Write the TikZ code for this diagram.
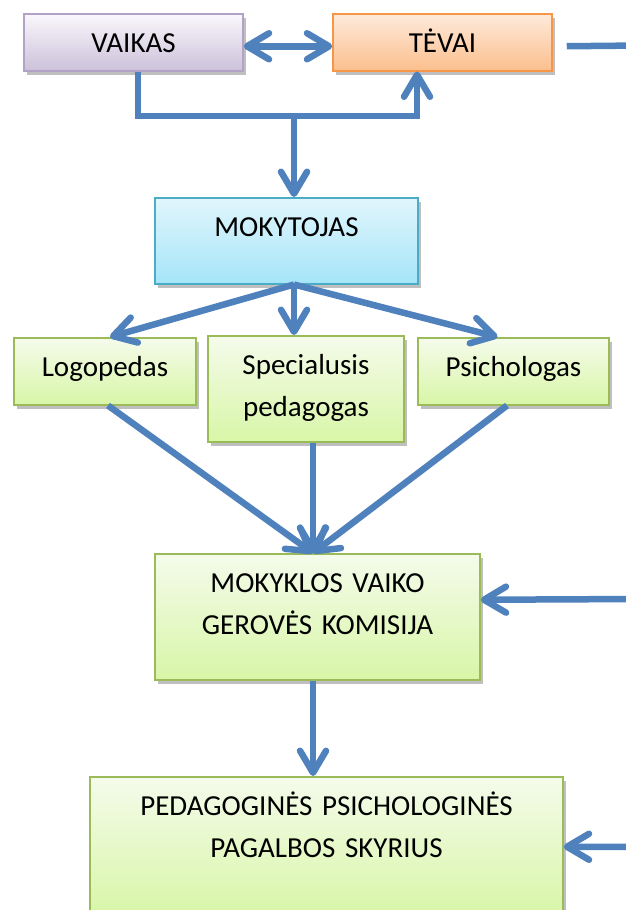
\documentclass[tikz,border=0pt]{standalone}
\usepackage{fontspec}
\setmainfont{Carlito}
\usepackage{xcolor}
\usetikzlibrary{calc, arrows.meta, shadows}

\definecolor{arrowblue}{HTML}{4F81BD}
\definecolor{violetline}{HTML}{B3A2C7}
\definecolor{violettop}{HTML}{FAF8FC}
\definecolor{violetbot}{HTML}{CCC1DA}
\definecolor{orangeline}{HTML}{F79646}
\definecolor{orangetop}{HTML}{FEEADB}
\definecolor{orangebot}{HTML}{FBBF8D}
\definecolor{cyanline}{HTML}{4BACC6}
\definecolor{cyantop}{HTML}{E1F6FC}
\definecolor{cyanbot}{HTML}{A5E5F9}
\definecolor{greenline}{HTML}{9BBB59}
\definecolor{greentop}{HTML}{F5FBEB}
\definecolor{greenbot}{HTML}{D8F6A7}

\tikzset{
	chev/.tip={Straight Barb[length=22pt, width=26pt, round]},
	box/.style={draw, line width=1.5pt, anchor=north, inner sep=0pt,
		execute at begin node=\centering,
		text height=39pt, font=\fontsize{29}{42}\selectfont,
		drop shadow={shadow xshift=3pt, shadow yshift=-4pt, opacity=0.25, fill=black}},
	violetbox/.style={box, draw=violetline, top color=violettop, bottom color=violetbot},
	orangebox/.style={box, draw=orangeline, top color=orangetop, bottom color=orangebot},
	cyanbox/.style={box, draw=cyanline, top color=cyantop, bottom color=cyanbot},
	greenbox/.style={box, draw=greenline, top color=greentop, bottom color=greenbot},
	line/.style={draw=arrowblue, line width=6.5pt,
		preaction={draw=black, opacity=0.12, transform canvas={shift={(2pt,-2.5pt)}}}},
	arr/.style={line, -chev}
}

\begin{document}
\begin{tikzpicture}[x=1pt, y=-1pt]
		\useasboundingbox (0,0) rectangle (625,910);
		\def\rail{640};
		
		\node [violetbox, text width=219pt, text depth=18pt] (vaikas) at (133.5,13) {VAIKAS};
		\node [orangebox, text width=219pt, text depth=18pt] (tevai) at (442.5,13) {TĖVAI};
		\node [cyanbox, text width=263pt, text depth=47pt] (mokytojas) at (286.5,197) {MOKYTOJAS};
		
		\node [greenbox, text width=182pt, text depth=28pt] (logopedas) at (105,337) {Logopedas};
		\node [greenbox, text width=196pt, text depth=67pt] (specialusis) at (306,335) {Specialusis\\pedagogas};
		\node [greenbox, text width=191pt, text depth=28pt] (psichologas) at (513.5,337) {Psichologas};
		
		\node [greenbox, text width=325pt, text depth=87pt] (mokyklos) at (317.5,553) {MOKYKLOS VAIKO\\GEROVĖS KOMISIJA};
		\node [greenbox, text width=473pt, text depth=101pt] (pedagogines) at (326.5,776) {PEDAGOGINĖS PSICHOLOGINĖS\\PAGALBOS SKYRIUS};
		
		\coordinate (jn) at (294,116);
		\coordinate (mk) at ([xshift=7.5pt]mokytojas.south);
		\coordinate (mg) at ([xshift=-4.5pt]mokyklos.north);
		\coordinate (railtop) at (\rail,45.5);
		\coordinate (railmid) at (\rail,599);
		
		\draw [line, chev-chev] ([yshift=-4pt]vaikas.east) -- ([yshift=-4pt]tevai.west);
		\draw [arr] ([xshift=4.5pt]vaikas.south) |- (jn) -| ([xshift=-25.5pt]tevai.south);
		\draw [arr] (jn) -- (jn |- mokytojas.north);
		
		\draw [arr] (mk) -- ([xshift=5pt]logopedas.north);
		\draw [arr] (mk) -- ([xshift=-12pt]specialusis.north);
		\draw [arr] (mk) -- ([xshift=-16pt]psichologas.north);
		
		\draw [arr] ([xshift=3pt]logopedas.south) -- (mg);
		\draw [arr] ([xshift=7pt]specialusis.south) -- (mg);
		\draw [arr] ([xshift=-6.5pt]psichologas.south) -- (mg);
		
		\draw [arr] ([xshift=-4.5pt]mokyklos.south) -- ([xshift=-4.5pt]mokyklos.south |- pedagogines.north);
		
		\draw [arr] ([xshift=14pt, yshift=-4pt]tevai.east) -- (railtop) |- (pedagogines.east);
		\draw [arr] (railmid) -- ([yshift=17pt]mokyklos.east);
	\end{tikzpicture}
\end{document}
